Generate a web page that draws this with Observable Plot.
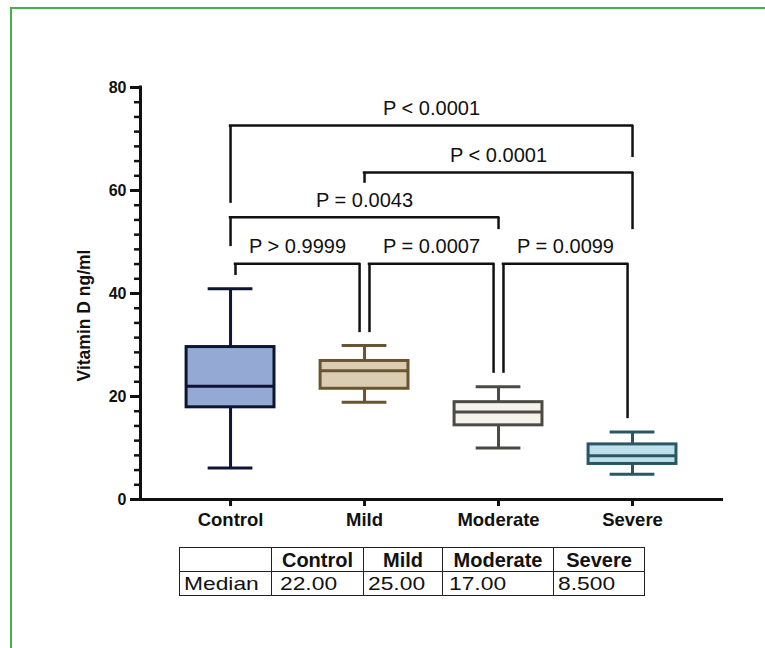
<!DOCTYPE html>
<html>
<head>
<meta charset="utf-8">
<script src="https://cdn.jsdelivr.net/npm/d3@7"></script>
<script src="https://cdn.jsdelivr.net/npm/@observablehq/plot@0.6"></script>
<style>
  html, body { margin: 0; padding: 0; background: #fff; }
  #wrap { position: relative; width: 765px; height: 648px; overflow: hidden; background: #fff; }
  #frame { position: absolute; left: 10px; top: 7px; right: -5px; bottom: -5px;
           border-top: 2px solid #42b34c; border-left: 2px solid #42b34c; }
  #chart { position: absolute; left: 0; top: 0; }
  #tbl { position: absolute; left: 179px; top: 547px; width: 465px; table-layout: fixed; border-collapse: collapse;
         font-family: "Liberation Sans", Arial, sans-serif; color: #111; }
  #tbl td { border: 1.5px solid #222; height: 23px; padding: 0; line-height: 22px; white-space: nowrap; overflow: visible; }
  #tbl tr.h td { font-weight: bold; text-align: center; font-size: 20px; }
  #tbl tr.v td { text-align: left; font-size: 19px; }
  #tbl tr.v td span { display: inline-block; transform: scaleX(1.2); transform-origin: 0 50%; }
</style>
</head>
<body>
<div id="wrap">
  <div id="frame"></div>
  <div id="chart"></div>
</div>
<script>
// ---- data ----
const categories = ["Control", "Mild", "Moderate", "Severe"];
const whiskerLow  = [6.1, 18.9, 10.0, 4.9];
const q1          = [17.9, 21.5, 14.4, 6.9];
const median      = [22.0, 25.0, 17.0, 8.5];
const q3          = [29.6, 26.9, 18.9, 10.7];
const whiskerHigh = [40.9, 29.9, 21.9, 13.1];
const fills   = ["#95a9d5", "#dbcdb1", "#f4f2ea", "#bedfeb"];
const strokes = ["#0c1533", "#6b5432", "#4b4a45", "#2a5763"];

const bracketFrom = [0, 1, 0, 0, 1, 2];
const bracketTo   = [3, 3, 2, 1, 2, 3];
const bracketY    = [72.6, 63.5, 54.8, 45.8, 45.8, 45.8];
const legFromEnd  = [57.5, 61.4, 49.1, 43.5, 32.4, 24.5];
const legToEnd    = [66.4, 52.4, 52.4, 32.4, 24.5, 15.7];
const pLabels = ["P < 0.0001", "P < 0.0001", "P = 0.0043", "P > 0.9999", "P = 0.0007", "P = 0.0099"];

const yMajor = [0, 20, 40, 60, 80];
const tableMedians = ["22.00", "25.00", "17.00", "8.500"];
const yTitle = "Vitamin D ng/ml";

// ---- derived tables ----
const idx = categories.map((_, i) => i);
const boxHW = 0.328, capHW = 0.167, legOff = 0.037;
const brackets = bracketFrom.map((f, i) => {
  const t = bracketTo[i];
  const adj = (t - f) === 1;
  return {
    xf: adj ? f + legOff : f, xt: adj ? t - legOff : t,
    y: bracketY[i], yf: legFromEnd[i], yt: legToEnd[i], label: pLabels[i], xm: (f + t) / 2
  };
});
const yMinor = [];
for (let k = 0; k < 80; k += 20) for (let j = 1; j < 7; j++) yMinor.push(k + j * 20 / 7);

const xMin = -0.672, xMax = 3.679;
const font = "'Liberation Sans', Arial, sans-serif";

const plot = Plot.plot({
  width: 765, height: 540,
  marginLeft: 140, marginRight: 42, marginTop: 87, marginBottom: 41,
  style: { fontFamily: font, color: "#111", background: "transparent", overflow: "visible" },
  x: { domain: [xMin, xMax] },
  y: { domain: [0, 80] },
  color: { type: "identity" },
  marks: [
    // whiskers
    Plot.ruleX(idx, { x: d => d, y1: d => q3[d], y2: d => whiskerHigh[d], stroke: d => strokes[d], strokeWidth: 3 }),
    Plot.ruleX(idx, { x: d => d, y1: d => whiskerLow[d], y2: d => q1[d], stroke: d => strokes[d], strokeWidth: 3 }),
    Plot.ruleY(idx, { x1: d => d - capHW, x2: d => d + capHW, y: d => whiskerHigh[d], stroke: d => strokes[d], strokeWidth: 3 }),
    Plot.ruleY(idx, { x1: d => d - capHW, x2: d => d + capHW, y: d => whiskerLow[d], stroke: d => strokes[d], strokeWidth: 3 }),
    // boxes
    Plot.rect(idx, { x1: d => d - boxHW, x2: d => d + boxHW, y1: d => q1[d], y2: d => q3[d],
      fill: d => fills[d], stroke: d => strokes[d], strokeWidth: 3 }),
    Plot.ruleY(idx, { x1: d => d - boxHW, x2: d => d + boxHW, y: d => median[d], stroke: d => strokes[d], strokeWidth: 3 }),
    // brackets
    Plot.ruleY(brackets, { x1: "xf", x2: "xt", y: "y", stroke: "#111", strokeWidth: 2.5, strokeLinecap: "square" }),
    Plot.ruleX(brackets, { x: "xf", y1: "y", y2: "yf", stroke: "#111", strokeWidth: 2.5 }),
    Plot.ruleX(brackets, { x: "xt", y1: "y", y2: "yt", stroke: "#111", strokeWidth: 2.5 }),
    Plot.text(brackets, { x: "xm", y: "y", text: "label", dy: -17, lineAnchor: "middle",
      fontSize: 20, fill: "#111" }),
    // axes
    Plot.axisY({ ticks: yMinor, tickSize: 6, strokeWidth: 2.5, tickFormat: () => "", label: null }),
    Plot.axisY({ ticks: yMajor, tickSize: 10, strokeWidth: 3, tickPadding: 4, fontSize: 16,
      fontWeight: "bold", label: null }),
    Plot.axisX({ ticks: idx, tickFormat: d => categories[d], tickSize: 7, strokeWidth: 3, tickPadding: 6,
      fontSize: 18.5, fontWeight: "bold", label: null }),
    Plot.ruleX([xMin], { y1: 0, y2: 80, stroke: "#111", strokeWidth: 3, strokeLinecap: "square" }),
    Plot.ruleY([0], { x1: xMin, x2: xMax, stroke: "#111", strokeWidth: 3 }),
    Plot.text([yTitle], { frameAnchor: "left", text: d => d, rotate: -90, dx: -56, dy: 22,
      textAnchor: "middle", fontSize: 17.5, fontWeight: "bold", fill: "#111" })
  ]
});
document.getElementById("chart").appendChild(plot);

// ---- table ----
const colW = [92, 92, 79, 111, 91];
const tbl = document.createElement("table");
tbl.id = "tbl";
const cg = document.createElement("colgroup");
colW.forEach(w => { const c = document.createElement("col"); c.style.width = w + "px"; cg.appendChild(c); });
tbl.appendChild(cg);
const tr1 = document.createElement("tr"); tr1.className = "h";
["", ...categories].forEach(c => { const td = document.createElement("td"); td.textContent = c; tr1.appendChild(td); });
const tr2 = document.createElement("tr"); tr2.className = "v";
const pads = [4, 8, 4, 6, 4];
["Median", ...tableMedians].forEach((c, i) => {
  const td = document.createElement("td"); td.style.paddingLeft = pads[i] + "px";
  const sp = document.createElement("span"); sp.textContent = c; td.appendChild(sp); tr2.appendChild(td);
});
tbl.appendChild(tr1); tbl.appendChild(tr2);
document.getElementById("wrap").appendChild(tbl);
</script>
</body>
</html>
